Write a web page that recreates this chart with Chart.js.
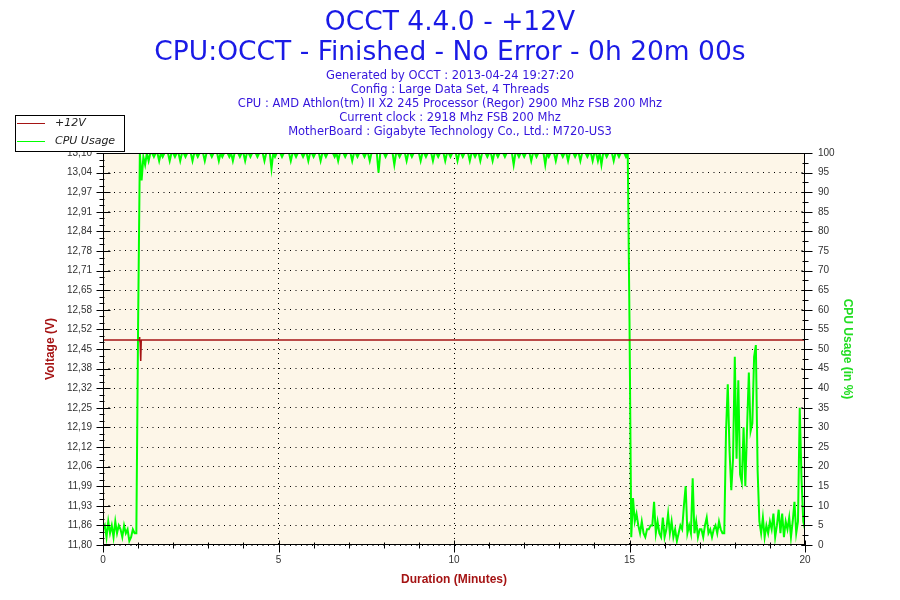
<!DOCTYPE html>
<html>
<head>
<meta charset="utf-8">
<script src="https://cdn.jsdelivr.net/npm/chart.js@4/dist/chart.umd.min.js"></script>
<style>
  html, body { margin: 0; padding: 0; background: #ffffff; }
  #wrap { width: 900px; height: 600px; position: relative; }
</style>
</head>
<body>
<div id="wrap"><canvas id="c" width="900" height="600"></canvas></div>
<script>
// ---------------- DATA ----------------
const titleLines = ['OCCT 4.4.0 - +12V', 'CPU:OCCT - Finished - No Error - 0h 20m 00s'];
const infoLines = [
  'Generated by OCCT : 2013-04-24 19:27:20',
  'Config : Large Data Set, 4 Threads',
  'CPU : AMD Athlon(tm) II X2 245 Processor (Regor) 2900 Mhz FSB 200 Mhz',
  'Current clock : 2918 Mhz FSB 200 Mhz',
  'MotherBoard : Gigabyte Technology Co., Ltd.: M720-US3'
];
const seriesNames = ['+12V', 'CPU Usage'];
const xTitle = 'Duration (Minutes)';
const yLeftTitle = 'Voltage (V)';
const yRightTitle = 'CPU Usage (in %)';

const xMin = 0, xMax = 20;
const xLabeled = [0, 5, 10, 15, 20];

const voltMin = 11.80, voltMax = 13.10;
const voltTickLabels = ['11,80','11,86','11,93','11,99','12,06','12,12','12,19','12,25','12,32','12,38',
  '12,45','12,52','12,58','12,65','12,71','12,78','12,84','12,91','12,97','13,04','13,10'];

const cpuMin = 0, cpuMax = 100, cpuStep = 5;

// +12V readings (minutes, volts)
const voltTimes  = [0,     1.03,  1.04,  1.05,  1.06,  1.07,  1.08,  1.09,  20];
const voltValues = [12.48, 12.48, 12.49, 12.48, 12.47, 12.48, 12.41, 12.48, 12.48];

// CPU usage (%), one reading every 3 seconds (0.05 min) from 0 to 20 min
const cpuSampleMinutes = 0.05;
const cpuUsage = [
  // 0 - 1 min
  4,5,2,6,3,5,2,6,3,5,4,2,5,3,4,1,2,4,3,3,
  56,
  100,93,99,97,100,98,100,100,99,100,100,98,100,99,100,100,100,98,100,
  // 2 min
  100,99,100,100,98,100,100,99,100,100,100,98,100,100,99,100,100,100,98,100,
  // 3 min
  100,100,99,100,100,100,98,100,99,100,100,100,99,100,98,100,100,100,99,100,
  // 4 min
  100,98,100,100,99,100,100,100,99,100,100,100,98,100,100,100,96,100,99,100,
  // 5 min
  100,100,99,100,100,100,100,98,100,100,99,100,100,100,99,100,100,98,100,100,
  // 6 min
  99,100,100,100,98,100,100,99,100,100,100,100,99,100,98,100,100,100,99,100,
  // 7 min
  100,100,98,100,100,99,100,100,100,99,100,100,98,100,100,100,100,95,100,100,
  // 8 min
  100,99,100,100,100,100,97,100,100,99,100,100,100,98,100,100,99,100,100,100,
  // 9 min
  100,98,100,100,99,100,100,100,98,100,100,99,100,100,100,98,100,100,99,100,
  // 10 min
  100,100,98,100,100,99,100,100,100,98,100,100,99,100,100,98,100,100,100,99,
  // 11 min
  100,100,98,100,100,99,100,100,100,99,100,100,100,100,97,100,100,99,100,100,
  // 12 min
  99,100,100,100,98,100,100,99,100,100,100,100,97,100,99,100,100,100,98,100,
  // 13 min
  100,100,99,100,100,98,100,100,100,99,100,100,98,100,100,100,99,100,100,98,
  // 14 min
  100,100,98,100,97,100,100,99,100,100,100,98,100,100,99,100,100,100,99,100,
  // 15 - 20 min
  57,2,12,6,8,5,3,6,3,2,
  4,4,5,5,11,3,6,3,2,7,
  2,4,8,3,6,2,4,1,3,5,
  4,10,15,3,5,3,17,3,6,2,
  4,4,2,5,7,3,4,2,4,5,
  3,6,4,3,3,29,41,24,14,22,
  48,22,42,18,16,30,15,30,44,29,
  31,48,51,19,6,3,7,2,5,3,
  6,4,8,2,5,9,3,8,2,6,
  4,7,2,6,11,3,6,35,17,6,
  4
];

// ---------------- STYLE ----------------
const COL_VOLT = '#a51414';
const COL_CPU = '#00ff00';
const COL_TITLE = '#1a1ae6';
const COL_INFO = '#3414dc';
const COL_TICK = '#333333';
const COL_PLOT_BG = '#fdf6e8';

const voltPoints = voltTimes.map((t, i) => ({ x: t, y: voltValues[i] }));
const cpuPoints = cpuUsage.map((v, i) => ({ x: i * cpuSampleMinutes, y: v }));

function hline(ctx, x1, x2, y) { ctx.beginPath(); ctx.moveTo(x1, y); ctx.lineTo(x2, y); ctx.stroke(); }
function vline(ctx, x, y1, y2) { ctx.beginPath(); ctx.moveTo(x, y1); ctx.lineTo(x, y2); ctx.stroke(); }

const occtDecor = {
  id: 'occtDecor',
  beforeDraw(chart) {
    const { ctx, chartArea: a } = chart;
    ctx.save();
    ctx.fillStyle = COL_PLOT_BG;
    ctx.fillRect(a.left, a.top, a.right - a.left, a.bottom - a.top);
    ctx.restore();
  },
  afterDraw(chart) {
    const { ctx, chartArea: a, scales } = chart;
    ctx.save();
    ctx.strokeStyle = '#000';
    ctx.lineWidth = 1;
    const L = Math.round(a.left) + 0.5, R = Math.round(a.right) - 0.5;
    const T = Math.round(a.top) + 0.5, B = Math.round(a.bottom) - 0.5;
    ctx.strokeRect(L, T, R - L, B - T);

    // left axis ticks (major + 2 minor)
    const yV = scales.yV;
    const vt = yV.ticks;
    vt.forEach((t, i) => {
      const y = Math.round(yV.getPixelForValue(t.value)) + 0.5;
      hline(ctx, L - 7, L + 7, y);
      if (i < vt.length - 1) {
        for (let j = 1; j <= 2; j++) {
          const v = t.value + j * (vt[i + 1].value - t.value) / 3;
          const ym = Math.round(yV.getPixelForValue(v)) + 0.5;
          hline(ctx, L - 4, L + 1, ym);
        }
      }
    });
    // right axis ticks (major + 1 minor)
    const yC = scales.yC;
    const ct = yC.ticks;
    ct.forEach((t, i) => {
      const y = Math.round(yC.getPixelForValue(t.value)) + 0.5;
      hline(ctx, R - 3, R + 8, y);
      if (i < ct.length - 1) {
        const ym = Math.round(yC.getPixelForValue((t.value + ct[i + 1].value) / 2)) + 0.5;
        hline(ctx, R - 2, R + 4, ym);
      }
    });
    // x axis ticks
    const xs = scales.x;
    xs.ticks.forEach((t) => {
      const x = Math.round(xs.getPixelForValue(t.value)) + 0.5;
      if (xLabeled.includes(t.value)) vline(ctx, x, B - 4, B + 8);
      else vline(ctx, x, B - 2, B + 4);
    });

    // legend box
    const ds = chart.data.datasets;
    ctx.fillStyle = '#ffffff';
    ctx.fillRect(15.5, 115.5, 109, 36);
    ctx.strokeStyle = '#000';
    ctx.strokeRect(15.5, 115.5, 109, 36);
    ctx.font = 'italic 11px "DejaVu Sans"';
    ctx.textBaseline = 'middle';
    ctx.textAlign = 'left';
    const rows = [123.5, 141.5];
    ds.forEach((d, i) => {
      ctx.strokeStyle = d.borderColor;
      ctx.lineWidth = 1;
      hline(ctx, 17, 45, rows[i]);
      ctx.fillStyle = '#222222';
      ctx.fillText(d.label, 55, rows[i]);
    });
    ctx.restore();
  }
};

Chart.defaults.font.family = '"Liberation Sans", Arial, sans-serif';

new Chart(document.getElementById('c'), {
  type: 'line',
  data: {
    datasets: [
      { label: seriesNames[0], data: voltPoints, yAxisID: 'yV', borderColor: COL_VOLT, backgroundColor: COL_VOLT,
        borderWidth: 1.5, pointRadius: 0, tension: 0, fill: false },
      { label: seriesNames[1], data: cpuPoints, yAxisID: 'yC', borderColor: COL_CPU, backgroundColor: COL_CPU,
        borderWidth: 2, pointRadius: 0, tension: 0, fill: false }
    ]
  },
  options: {
    responsive: false,
    animation: false,
    devicePixelRatio: 1,
    layout: { padding: 0 },
    plugins: {
      legend: { display: false },
      tooltip: { enabled: false },
      title: {
        display: true, text: titleLines, color: COL_TITLE,
        font: { family: '"DejaVu Sans"', size: 26.5, weight: 'normal', lineHeight: '30.5px' },
        padding: { top: 7.5, bottom: 0 }
      },
      subtitle: {
        display: true, text: infoLines, color: COL_INFO,
        font: { family: '"DejaVu Sans"', size: 11.5, weight: 'normal', lineHeight: '14px' },
        padding: { top: 1, bottom: 13.5 }
      }
    },
    scales: {
      x: {
        type: 'linear', position: 'bottom', min: xMin, max: xMax,
        afterFit(s) { s.height = 55; },
        ticks: {
          stepSize: 1, autoSkip: false, maxRotation: 0, padding: 9, color: COL_TICK,
          font: { size: 10 },
          callback: (v) => xLabeled.includes(v) ? String(v) : ''
        },
        grid: {
          drawTicks: false, lineWidth: 1,
          color: (c) => (c.tick && (c.tick.value === 5 || c.tick.value === 10 || c.tick.value === 15)) ? '#000000' : 'rgba(0,0,0,0)'
        },
        border: { display: false, dash: [1, 4] },
        title: { display: true, text: xTitle, color: COL_VOLT, font: { size: 12, weight: 'bold' }, padding: { top: 0, bottom: 13 } }
      },
      yV: {
        type: 'linear', position: 'left', min: voltMin, max: voltMax,
        afterFit(s) { s.width = 103; },
        afterBuildTicks(s) {
          s.ticks = voltTickLabels.map((l, i) => ({ value: voltMin + i * (voltMax - voltMin) / (voltTickLabels.length - 1) }));
        },
        ticks: {
          autoSkip: false, padding: 11, color: COL_TICK, font: { size: 10 },
          callback: (v, i) => voltTickLabels[i]
        },
        grid: { drawTicks: false, color: '#000000', lineWidth: 1 },
        border: { display: false, dash: [1, 4.5] },
        title: { display: true, text: yLeftTitle, color: COL_VOLT, font: { size: 12, weight: 'bold' }, padding: { top: 43, bottom: 0 } }
      },
      yC: {
        type: 'linear', position: 'right', min: cpuMin, max: cpuMax,
        afterFit(s) { s.width = 95; },
        ticks: { stepSize: cpuStep, autoSkip: false, padding: 13, color: COL_TICK, font: { size: 10 } },
        grid: { display: false, drawTicks: false },
        border: { display: false },
        title: { display: true, text: yRightTitle, color: '#22dd22', font: { size: 12, weight: 'bold' }, padding: { top: 45, bottom: 0 } }
      }
    }
  },
  plugins: [occtDecor]
});
</script>
</body>
</html>
